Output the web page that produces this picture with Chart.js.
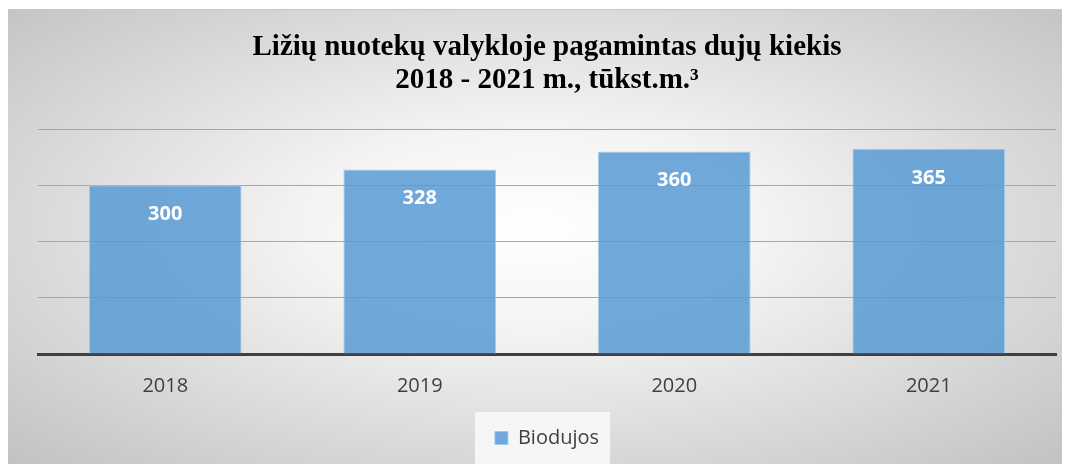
<!DOCTYPE html>
<html>
<head>
<meta charset="utf-8">
<script src="https://cdn.jsdelivr.net/npm/chart.js@4.4.0/dist/chart.umd.min.js"></script>
<style>
  body { margin: 0; background: #fff; }
  .box {
    position: absolute; left: 8px; top: 9px; width: 1054px; height: 455px;
    border-top: 1px solid #c8c8c8; box-sizing: border-box;
    background: radial-gradient(ellipse farthest-corner at 50% 48%, #ffffff 0%, #f4f4f4 30%, #c2c2c2 100%);
  }
</style>
</head>
<body>
<div class="box"><canvas id="gas-chart" width="1054" height="455"></canvas></div>
<script>
// data
const years = ['2018', '2019', '2020', '2021'];
const biodujos = [300, 328, 360, 365];
const yTicks = [0, 100, 200, 300, 400];

// white value labels inside bars + legend background
const valueLabels = {
    id: 'valueLabels',
    beforeDraw(chart) {
        const hb = chart.legend.legendHitBoxes[0];
        if (!hb) return;
        const c = chart.ctx;
        c.save();
        c.fillStyle = 'rgba(248,248,248,0.9)';
        c.fillRect(hb.left - 20, hb.top - 16, hb.width + 31, hb.height + 32);
        c.restore();
    },
    afterDatasetsDraw(chart) {
        const c = chart.ctx;
        const meta = chart.getDatasetMeta(0);
        c.save();
        c.fillStyle = '#ffffff';
        c.font = 'bold 20px "Open Sans"';
        c.textAlign = 'center';
        c.textBaseline = 'middle';
        meta.data.forEach((bar, i) => {
            c.fillText(biodujos[i], bar.x, bar.y + 29);
        });
        c.restore();
    }
};

const ctx = document.getElementById('gas-chart');

new Chart(ctx, {
    type: 'bar',
    data: {
        labels: years,
        datasets: [{
            label: 'Biodujos',
            data: biodujos,
            backgroundColor: 'rgba(91,155,213,0.86)',
            borderColor: 'rgba(160,200,235,0.9)',
            borderWidth: 1,
            barPercentage: 0.6,
            categoryPercentage: 1
        }]
    },
    options: {
        responsive: false,
        animation: false,
        layout: { padding: { left: 30, right: 6, top: 0, bottom: 7 } },
        plugins: {
            title: {
                display: true,
                text: ['Ližių nuotekų valykloje pagamintas dujų kiekis', '2018 - 2021 m., tūkst.m.³'],
                color: '#000',
                font: { family: '"Liberation Serif"', size: 29, weight: 'bold', lineHeight: 1.14 },
                padding: { top: 21, bottom: 32 }
            },
            legend: {
                position: 'bottom',
                labels: {
                    color: '#404040',
                    font: { family: '"Open Sans"', size: 20 },
                    boxWidth: 13,
                    boxHeight: 13,
                    padding: 18
                }
            },
            tooltip: { enabled: false }
        },
        scales: {
            x: {
                grid: { display: false },
                border: { color: '#404040', width: 3 },
                ticks: { color: '#404040', font: { family: '"Open Sans"', size: 20 }, padding: 12 }
            },
            y: {
                min: yTicks[0],
                max: yTicks[yTicks.length - 1],
                afterBuildTicks(axis) { axis.ticks = yTicks.map(v => ({ value: v })); },
                ticks: { display: false },
                border: { display: false },
                grid: { color: '#a6a6a6', drawTicks: false }
            }
        }
    },
    plugins: [valueLabels]
});
</script>
</body>
</html>
